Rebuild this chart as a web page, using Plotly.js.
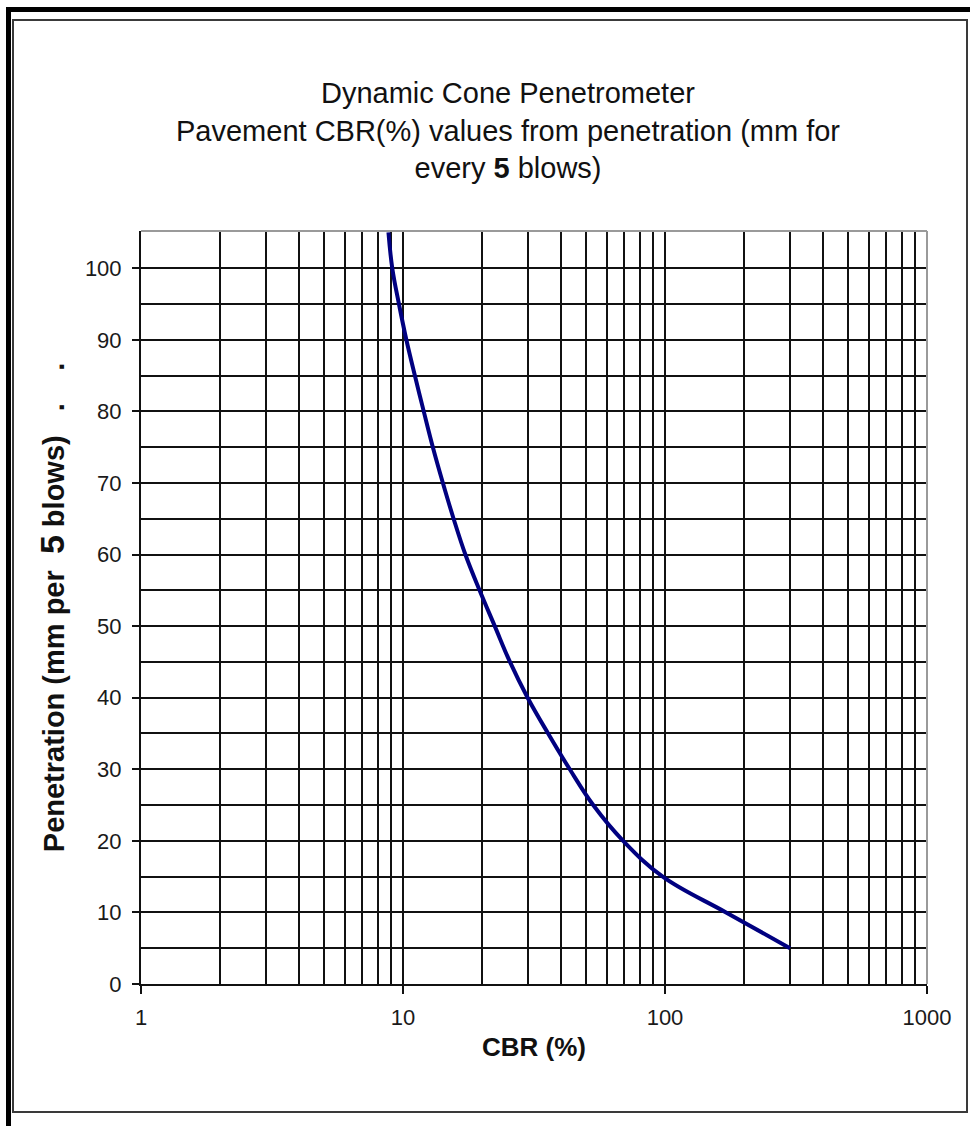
<!DOCTYPE html>
<html>
<head>
<meta charset="utf-8">
<script src="https://cdn.plot.ly/plotly-3.0.1.min.js"></script>
<style>
  html, body { margin: 0; padding: 0; background: #fff; }
  #chart { position: absolute; left: 0; top: 0; width: 970px; height: 1126px; }
  .outer { position: absolute; left: 6px; top: 7px; width: 1000px; height: 1200px;
           border-left: 5px solid #000; border-top: 5px solid #000; pointer-events: none; }
  .inner { position: absolute; left: 12px; top: 19px; width: 952px; height: 1090px;
           border: 2px solid #3a3a3a; pointer-events: none; }
</style>
</head>
<body>
<div id="chart"></div>
<div class="outer"></div>
<div class="inner"></div>
<script>
// Penetration (mm per 5 blows) and CBR (%)
var penetration = [5, 10, 15, 20, 25, 30, 35, 40, 45, 50, 55, 60, 65, 70, 75, 80, 85, 90, 95, 100, 105];
var cbr = [300, 171, 98, 69.2, 53.2, 43.3, 35.8, 29.9, 25.6, 22.4, 19.6, 17.3, 15.6, 14.2, 13.0, 12.0, 11.1, 10.3, 9.65, 9.1, 8.8];

var xMajorTicks = [1, 10, 100, 1000];
var xMajorLabels = ['1', '10', '100', '1000'];
var xMinorTicks = [2, 3, 4, 5, 6, 7, 8, 9, 20, 30, 40, 50, 60, 70, 80, 90, 200, 300, 400, 500, 600, 700, 800, 900];
var yMajorTicks = [0, 10, 20, 30, 40, 50, 60, 70, 80, 90, 100];
var yMinorTicks = [5, 15, 25, 35, 45, 55, 65, 75, 85, 95];

var font = '"Liberation Sans", Arial, sans-serif';
var nb = '\u00a0';

var trace = {
  x: cbr,
  y: penetration,
  type: 'scatter',
  mode: 'lines',
  line: { color: '#000080', width: 4, shape: 'spline', smoothing: 1.1 },
  hoverinfo: 'x+y',
  showlegend: false
};

var layout = {
  width: 970,
  height: 1126,
  paper_bgcolor: '#ffffff',
  plot_bgcolor: '#ffffff',
  margin: { l: 141, r: 43, t: 231, b: 142, pad: 0 },
  font: { family: font, color: '#1a1a1a' },
  title: {
    text: 'Dynamic Cone Penetrometer<br>Pavement CBR(%) values from penetration (mm for<br>every <b>5</b> blows)',
    font: { family: font, size: 29, color: '#111' },
    x: 508 / 970, xanchor: 'center', xref: 'container',
    y: 1 - 103 / 1126, yanchor: 'top', yref: 'container'
  },
  xaxis: {
    type: 'log',
    range: [0, 3],
    tickmode: 'array',
    tickvals: xMajorTicks,
    ticktext: xMajorLabels,
    ticks: 'outside',
    ticklen: 8,
    tickwidth: 2,
    tickcolor: '#111',
    ticklabelstandoff: 5,
    tickfont: { family: font, size: 22, color: '#1a1a1a' },
    showgrid: true,
    gridcolor: '#111',
    gridwidth: 2,
    minor: { tickvals: xMinorTicks, showgrid: true, gridcolor: '#111', gridwidth: 2, ticks: '' },
    showline: true,
    linecolor: '#111',
    linewidth: 2,
    zeroline: false,
    title: { text: '<b>CBR (%)</b>', font: { family: font, size: 26, color: '#111' }, standoff: 8 },
    automargin: false
  },
  yaxis: {
    range: [0, 105.2],
    tickmode: 'array',
    tickvals: yMajorTicks,
    ticks: 'outside',
    ticklen: 7,
    tickwidth: 2,
    tickcolor: '#111',
    ticklabelstandoff: 6,
    tickfont: { family: font, size: 22, color: '#1a1a1a' },
    showgrid: true,
    gridcolor: '#111',
    gridwidth: 2,
    minor: { tickvals: yMinorTicks, showgrid: true, gridcolor: '#111', gridwidth: 2, ticks: '' },
    showline: true,
    linecolor: '#111',
    linewidth: 2,
    zeroline: false,
    title: {
      text: '<b>Penetration (mm per ' + nb + '<span style="font-size:34px">5</span> blows)' + nb + nb + nb + '.' + nb + nb + nb + nb + '.</b>',
      font: { family: font, size: 29, color: '#111' },
      standoff: 12
    },
    automargin: false
  },
  shapes: [
    { type: 'line', xref: 'paper', yref: 'paper', x0: 0, x1: 1, y0: 1, y1: 1, line: { color: '#9a9a9a', width: 2 }, layer: 'above' },
    { type: 'line', xref: 'paper', yref: 'paper', x0: 1, x1: 1, y0: 0, y1: 1, line: { color: '#9a9a9a', width: 2 }, layer: 'above' }
  ]
};

Plotly.newPlot('chart', [trace], layout, { staticPlot: true, displayModeBar: false });
</script>
</body>
</html>
